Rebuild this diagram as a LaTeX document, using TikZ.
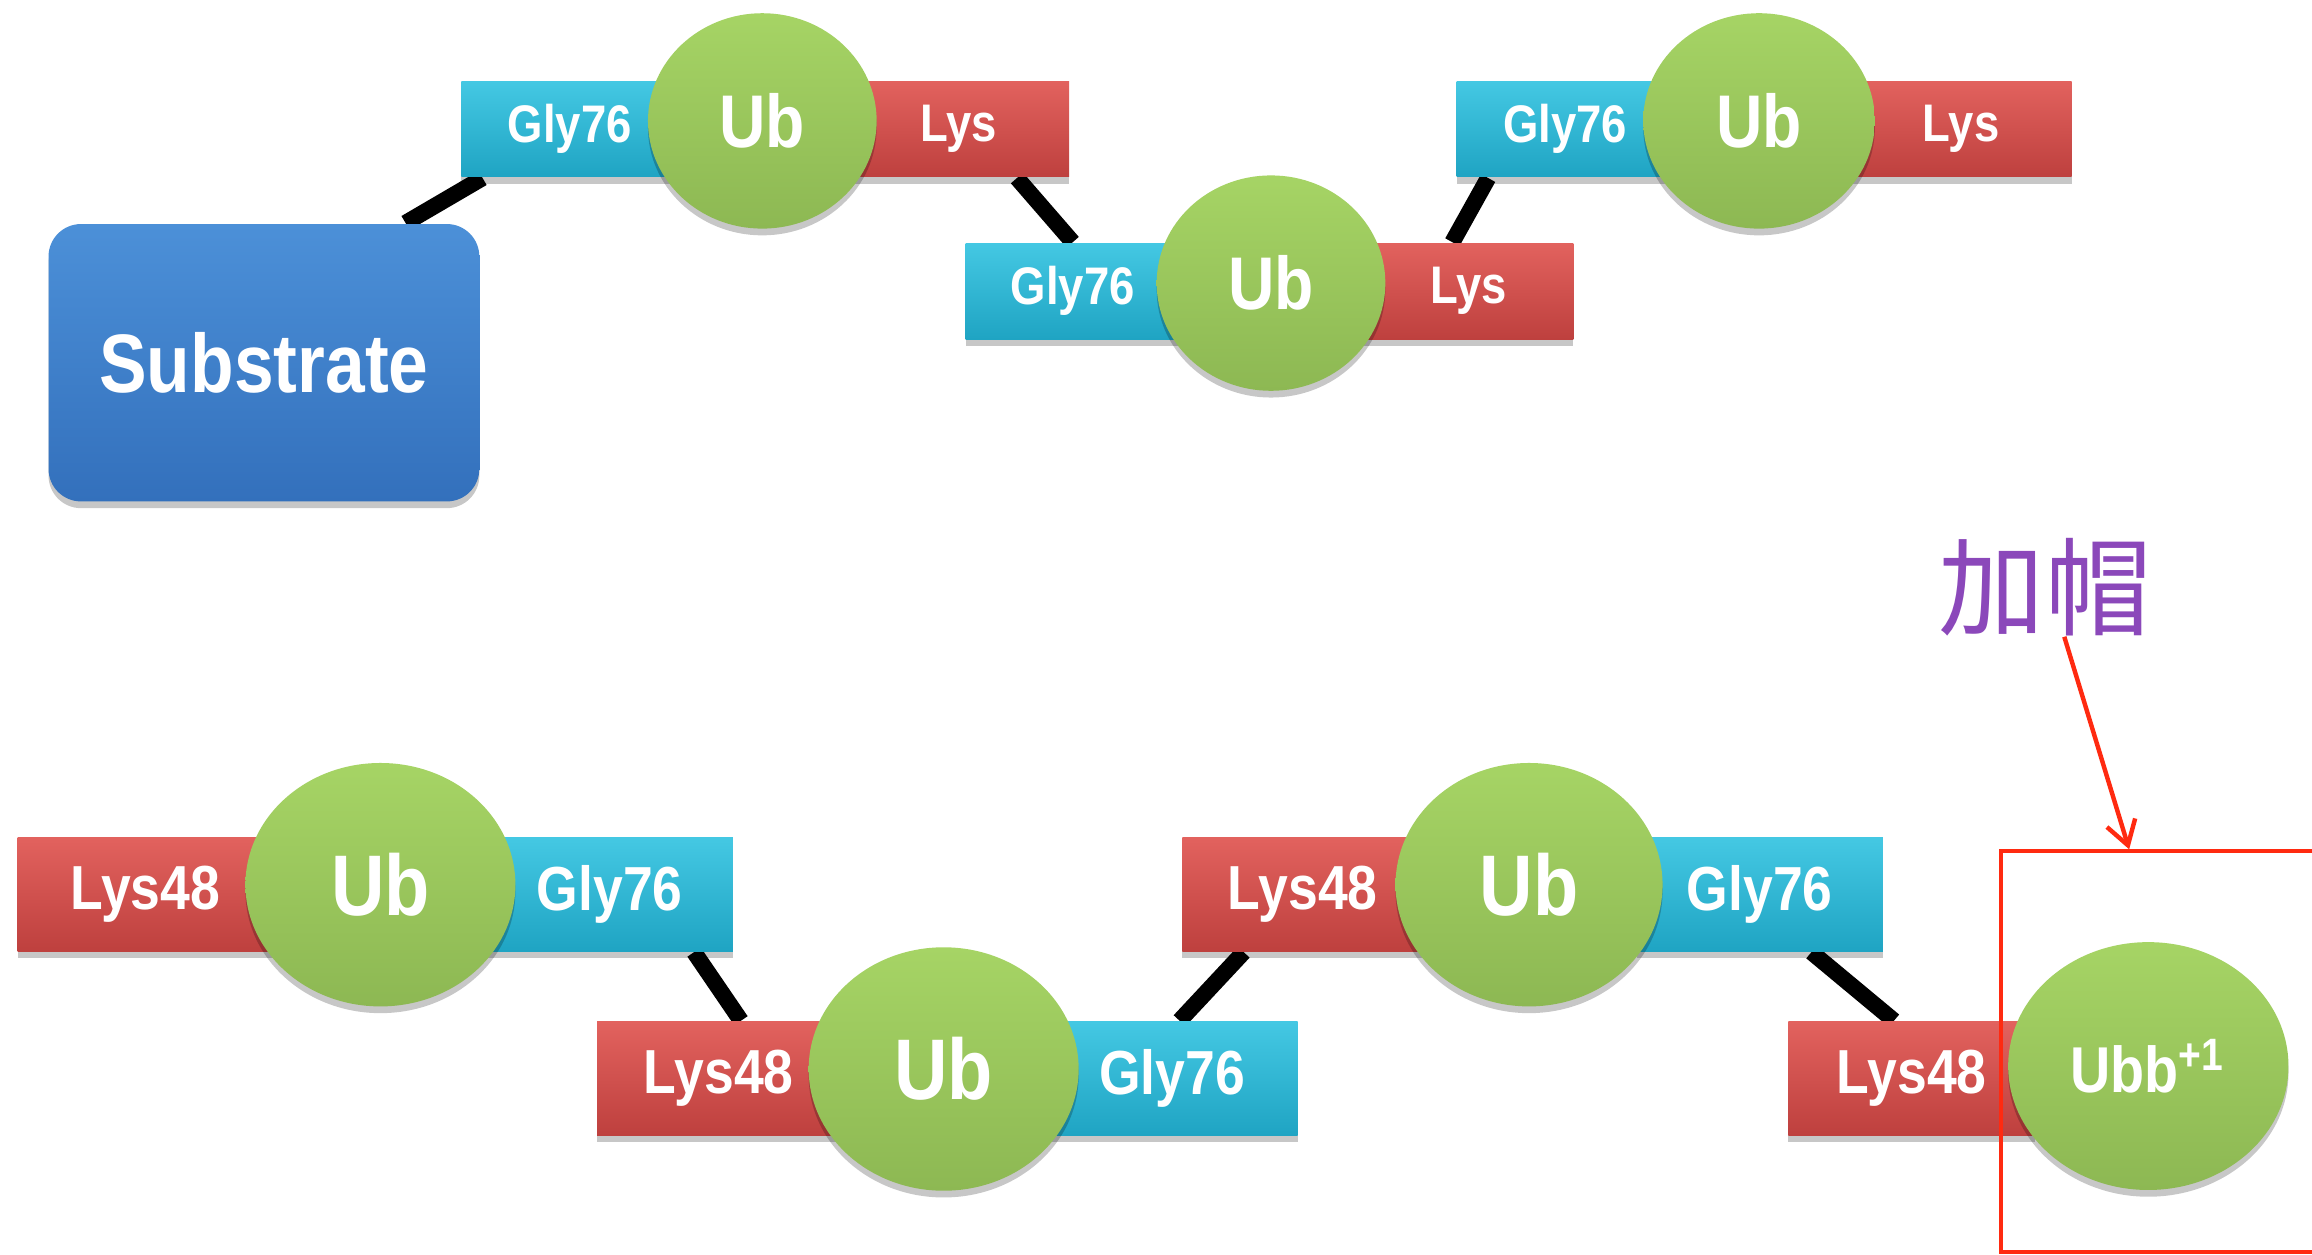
\documentclass[tikz,border=0pt]{standalone}
\usepackage{fontspec}
\newfontfamily\labfont[FakeStretch=0.86]{Liberation Sans}
\newfontfamily\cjkfont{Noto Sans CJK SC}
\usetikzlibrary{shapes.geometric,shadows,arrows.meta,calc}
\pgfdeclarelayer{bg}
\pgfsetlayers{bg,main}
\definecolor{cyanT}{HTML}{44C8E3}
\definecolor{cyanB}{HTML}{1FA4C3}
\definecolor{redT}{HTML}{E2625E}
\definecolor{redB}{HTML}{BE403E}
\definecolor{grT}{HTML}{A6D465}
\definecolor{grB}{HTML}{8DB853}
\definecolor{subT}{HTML}{4C90D8}
\definecolor{subB}{HTML}{3370BC}
\definecolor{capPurple}{HTML}{8B48BA}
\definecolor{hlRed}{HTML}{FF2A10}
\begin{document}
\begin{tikzpicture}[x=0.01cm,y=-0.01cm,
  shd/.style={drop shadow={shadow xshift=0pt,shadow yshift=-1.3pt,opacity=0.22,fill=black}},
  box/.style={rectangle,minimum height=0.65cm,inner sep=0pt,text=white,shd,
    font=\labfont\bfseries\fontsize{10.2}{12}\selectfont},
  bigbox/.style={minimum height=0.77cm,font=\labfont\bfseries\fontsize{12}{14}\selectfont},
  glybox/.style={box,top color=cyanT,bottom color=cyanB},
  lysbox/.style={box,top color=redT,bottom color=redB},
  ub/.style={ellipse,inner sep=0pt,top color=grT,bottom color=grB,text=white,shd,
    font=\labfont\bfseries\fontsize{14.4}{16}\selectfont},
  bigub/.style={font=\labfont\bfseries\fontsize{16.6}{19}\selectfont},
  link/.style={line width=0.11cm,black},
  subbox/.style={rectangle,rounded corners=0.22cm,inner sep=0pt,top color=subT,bottom color=subB,
    text=white,shd,font=\labfont\bfseries\fontsize{16}{19}\selectfont},
  hl/.style={draw=hlRed,line width=0.03cm}
]
\path[use as bounding box] (0,0) rectangle (1568,851);

% ---- top chain ----
\node[subbox,minimum width=2.92cm,minimum height=1.88cm] (sub) at (179,246) {Substrate};
\node[glybox,minimum width=1.47cm] (g1) at (386.5,87.5) {Gly76};
\node[lysbox,minimum width=1.50cm] (l1) at (650,87.5) {Lys};
\node[ub,minimum width=1.55cm,minimum height=1.46cm] (u1) at (517,82) {Ub};
\node[glybox,minimum width=1.45cm] (g2) at (727.5,197.5) {Gly76};
\node[lysbox,minimum width=1.42cm] (l2) at (996,197.5) {Lys};
\node[ub,minimum width=1.55cm,minimum height=1.46cm] (u2) at (862,192) {Ub};
\node[glybox,minimum width=1.47cm] (g3) at (1061.5,87.5) {Gly76};
\node[lysbox,minimum width=1.50cm] (l3) at (1330,87.5) {Lys};
\node[ub,minimum width=1.57cm,minimum height=1.46cm] (u3) at (1193,82) {Ub};

% ---- bottom chain ----
\node[lysbox,bigbox,minimum width=1.73cm] (l4) at (98.5,606.5) {Lys48};
\node[glybox,bigbox,minimum width=1.67cm] (g4) at (413.5,606.5) {Gly76};
\node[ub,bigub,minimum width=1.83cm,minimum height=1.65cm] (u4) at (258,600) {Ub};
\node[lysbox,bigbox,minimum width=1.65cm] (l5) at (487.5,731.5) {Lys48};
\node[glybox,bigbox,minimum width=1.70cm] (g5) at (795,731.5) {Gly76};
\node[ub,bigub,minimum width=1.83cm,minimum height=1.65cm] (u5) at (640,725) {Ub};
\node[lysbox,bigbox,minimum width=1.63cm] (l6) at (883.5,606.5) {Lys48};
\node[glybox,bigbox,minimum width=1.67cm] (g6) at (1193.5,606.5) {Gly76};
\node[ub,bigub,minimum width=1.81cm,minimum height=1.65cm] (u6) at (1037,600) {Ub};
\node[lysbox,bigbox,minimum width=1.67cm] (l7) at (1296.5,731.5) {Lys48};
\node[ub,minimum width=1.90cm,minimum height=1.68cm,font=\labfont\bfseries\fontsize{12.5}{14}\selectfont] (u7) at (1457,723) {Ubb\textsuperscript{+1}};

% ---- connectors (behind) ----
\begin{pgfonlayer}{bg}
\fill[white] (0,0) rectangle (1568,851);
\draw[link] ([xshift=0.96cm]sub.north) -- ([xshift=0.15cm]g1.south west);
\draw[link] ([xshift=-0.36cm]l1.south east) -- (g2.north);
\draw[link] ([xshift=-0.11cm]l2.north) -- ([xshift=0.22cm]g3.south west);
\draw[link] ([xshift=-0.27cm]g4.south east) -- ([xshift=0.15cm]l5.north);
\draw[link] ([xshift=0.05cm]g5.north) -- ([xshift=-0.40cm]l6.south);
\draw[link] ([xshift=0.35cm]g6.south) -- ([xshift=-0.12cm]l7.north);
\end{pgfonlayer}

% ---- highlight ----
\draw[hl] (1568,577) -- (1357,577) -- (1357,849) -- (1568,849);
\coordinate (captip) at (1444,576);
\node[inner sep=0pt,text=capPurple,font=\cjkfont\fontsize{20.5}{24}\selectfont] (cap) at (1387,398) {加帽};
\draw[draw=hlRed,line width=0.03cm,-{Straight Barb[length=0.16cm,width=0.2cm,line width=0.03cm]}]
  ([xshift=0.13cm]cap.south) -- (captip);
\end{tikzpicture}
\end{document}
